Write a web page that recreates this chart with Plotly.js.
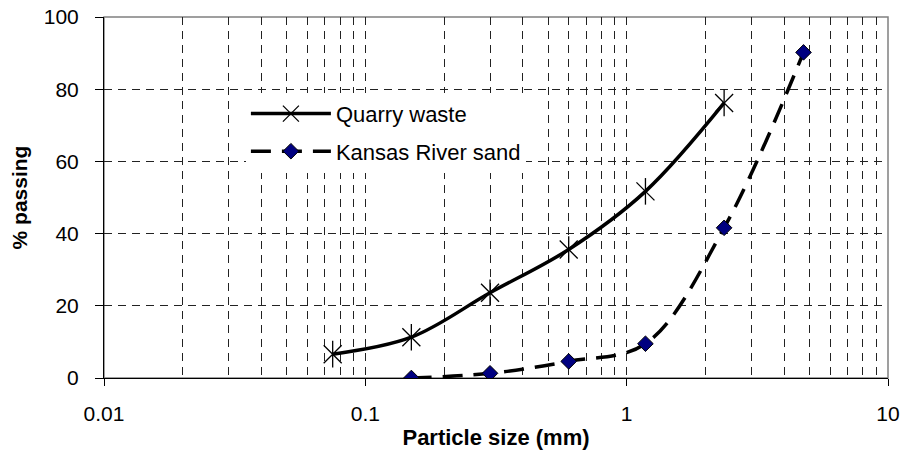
<!DOCTYPE html>
<html>
<head>
<meta charset="utf-8">
<script src="https://cdn.plot.ly/plotly-3.0.1.min.js"></script>
<style>html,body{margin:0;padding:0;background:#fff;}#chart{width:905px;height:454px;}</style>
</head>
<body>
<div id="chart"></div>
<script>
const quarrySize = [0.075, 0.15, 0.3, 0.6, 1.18, 2.36];
const quarryPassing = [6.6, 11.3, 23.6, 35.6, 51.7, 76.2];
const riverSize = [0.15, 0.3, 0.6, 1.18, 2.36, 4.75];
const riverPassing = [0, 1.3, 4.6, 9.5, 41.6, 90.2];
const seriesNames = ["Quarry waste", "Kansas River sand"];
const xTickVals = [0.01, 0.1, 1, 10];
const xTickText = ["0.01", "0.1", "1", "10"];
const yTickVals = [0, 20, 40, 60, 80, 100];

const FONT = 'Liberation Sans, Arial, sans-serif';

const traces = [
  {
    x: quarrySize, y: quarryPassing, name: seriesNames[0], type: 'scatter', mode: 'lines+markers',
    legendgroup: 'a',
    line: {color: '#000', width: 3.5, shape: 'spline', smoothing: 1},
    marker: {symbol: 'x-thin-open', size: 18, color: '#000', line: {color: '#000', width: 1.3}}
  },
  {
    x: quarrySize, y: quarryPassing, name: seriesNames[0], type: 'scatter', mode: 'markers',
    legendgroup: 'a', showlegend: false, hoverinfo: 'skip',
    marker: {symbol: 'line-ns-open', size: 19, color: '#000', line: {color: '#000', width: 1.3}}
  },
  {
    x: riverSize, y: riverPassing, name: seriesNames[1], type: 'scatter', mode: 'lines+markers',
    legendgroup: 'b',
    line: {color: '#000', width: 3.5, shape: 'spline', smoothing: 1, dash: '20px,11px'},
    marker: {symbol: 'diamond', size: 12, color: '#000080', line: {color: '#000', width: 1}}
  }
];

const layout = {
  width: 905, height: 454,
  margin: {l: 104, r: 17, t: 17, b: 76},
  paper_bgcolor: '#fff', plot_bgcolor: '#fff',
  font: {family: FONT, color: '#000', size: 21},
  showlegend: true,
  legend: {
    x: 0.181, y: 0.79, xanchor: 'left', yanchor: 'top',
    bgcolor: '#fff', borderwidth: 0,
    font: {size: 22, family: FONT},
    traceorder: 'grouped', tracegroupgap: 6, itemwidth: 80
  },
  xaxis: {
    type: 'log', range: [-2, 1], automargin: false,
    tickvals: xTickVals, ticktext: xTickText,
    ticks: 'outside', ticklen: 7, tickcolor: '#000', tickwidth: 1,
    showline: true, linecolor: '#000', linewidth: 1,
    showgrid: true, gridcolor: '#222', gridwidth: 1, griddash: '8px,6px',
    minor: {dtick: 'D1', showgrid: true, gridcolor: '#222', gridwidth: 1, griddash: '8px,6px', ticks: ''},
    zeroline: false,
    ticklabelstandoff: 10,
    tickfont: {size: 21},
    title: {text: 'Particle size (mm)', font: {size: 22, weight: 'bold'}, standoff: 5}
  },
  yaxis: {
    range: [0, 100], tickvals: yTickVals, automargin: false,
    ticks: 'outside', ticklen: 8, tickcolor: '#000', tickwidth: 1,
    showline: true, linecolor: '#000', linewidth: 1,
    showgrid: true, gridcolor: '#222', gridwidth: 1, griddash: '8px,6px',
    zeroline: false,
    ticklabelstandoff: 12,
    tickfont: {size: 21},
    title: {text: '% passing', font: {size: 21, weight: 'bold'}, standoff: 10}
  },
  shapes: [
    {type: 'rect', xref: 'paper', yref: 'paper', x0: 0, x1: 1, y0: 0, y1: 1,
     line: {color: '#808080', width: 1.5}, layer: 'below'}
  ]
};

Plotly.newPlot('chart', traces, layout, {displayModeBar: false, staticPlot: true});
</script>
</body>
</html>
